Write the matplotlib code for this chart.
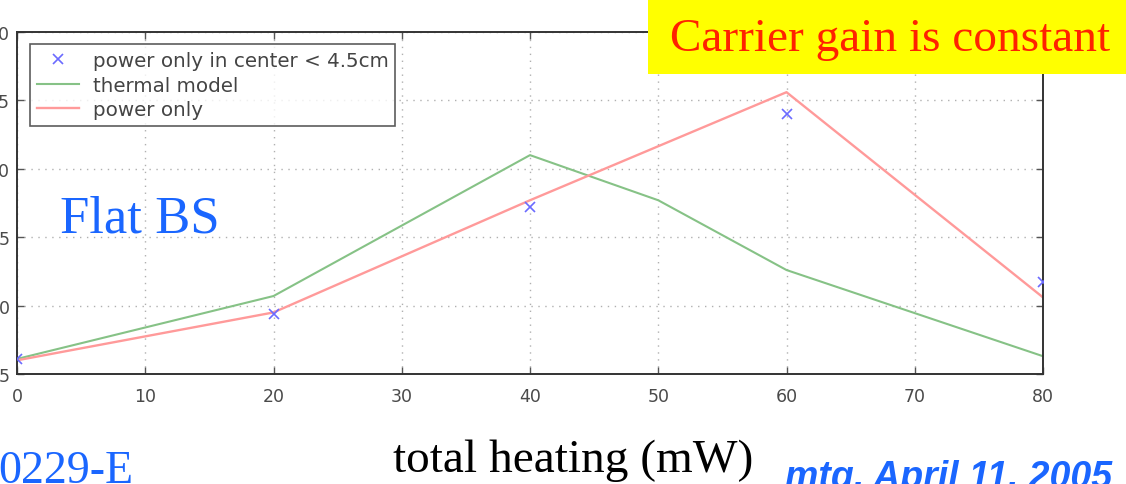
import matplotlib
matplotlib.use("Agg")
import matplotlib.pyplot as plt
from matplotlib.patches import Rectangle

# data
heating_mw = [0, 20, 40, 50, 60, 80]
thermal_model = [6.1, 10.7, 21.0, 17.7, 12.6, 6.3]
power_x = [0, 20, 40, 60, 80]
power_only = [6.0, 9.5, 17.7, 25.6, 10.6]
center_x = [0, 20, 40, 60, 80]
power_center = [6.1, 9.4, 17.2, 24.0, 11.7]

x_ticks = [0, 10, 20, 30, 40, 50, 60, 70, 80]
y_ticks = [5, 10, 15, 20, 25, 30]

W, H = 1126, 485
fig = plt.figure(figsize=(W / 100, H / 100), dpi=100)
ax = fig.add_axes([17 / W, 1 - 375 / H, (1043 - 17) / W, (375 - 33) / H])

ax.plot(center_x, power_center, "x", color="#6b6bff", markersize=7, mew=1.2,
        linestyle="none", label="power only in center < 4.5cm", zorder=4)
ax.plot(heating_mw, thermal_model, color="#86c286", lw=1.5, label="thermal model")
ax.plot(power_x, power_only, color="#ff9a9a", lw=1.7, label="power only")

ax.set_xlim(0, 80)
ax.set_ylim(5, 30)
ax.set_xticks(x_ticks)
ax.set_yticks(y_ticks)
ax.grid(True, linestyle=(0, (1, 4)), color="#b0b0b0", lw=1.0)
ax.tick_params(direction="in", top=True, right=True, length=5, width=1,
               labelsize=12.5, labelcolor="#4a4a4a", color="#555555")
ax.tick_params(axis="y", pad=5)
ax.tick_params(axis="x", pad=9)
for s in ax.spines.values():
    s.set_linewidth(1.4)
    s.set_color("#333333")

leg = ax.legend(loc="upper left", bbox_to_anchor=(13 / 1026, 1 - 12 / 342),
                fontsize=14.3, frameon=True, fancybox=False, borderaxespad=0,
                handlelength=2.1, handletextpad=0.7, labelspacing=0.28,
                borderpad=0.35)
leg.get_frame().set_edgecolor("#333333")
leg.get_frame().set_linewidth(1.2)
for t in leg.get_texts():
    t.set_color("#444444")

fig.text(60 / W, 1 - 220 / H, "Flat BS", family="Liberation Serif",
         fontsize=38, color="#1a66ff", va="center", ha="left")

# yellow banner in the top right corner
banner = Rectangle((648 / W, 1 - 75 / H), 1 - 648 / W, 75 / H,
                   transform=fig.transFigure, facecolor="#ffff00",
                   edgecolor="none", zorder=10)
fig.add_artist(banner)
fig.text(890 / W, 1 - 40 / H, "Carrier gain is constant",
         family="Liberation Serif", fontsize=34, color="#ff2200",
         ha="center", va="center", zorder=11)

fig.text(573 / W, 1 - 461 / H, "total heating (mW)", family="Liberation Serif",
         fontsize=34, color="black", ha="center", va="center")
fig.text(-2 / W, 1 - 472 / H, "0229-E", family="Liberation Serif",
         fontsize=33, color="#1a66ff", ha="left", va="center")
fig.text(1112 / W, 1 - 478 / H, "mtg, April 11, 2005",
         family="Liberation Sans", fontsize=27, color="#1a66ff",
         weight="bold", style="italic", ha="right", va="center")

fig.savefig("out.png", dpi=100)
